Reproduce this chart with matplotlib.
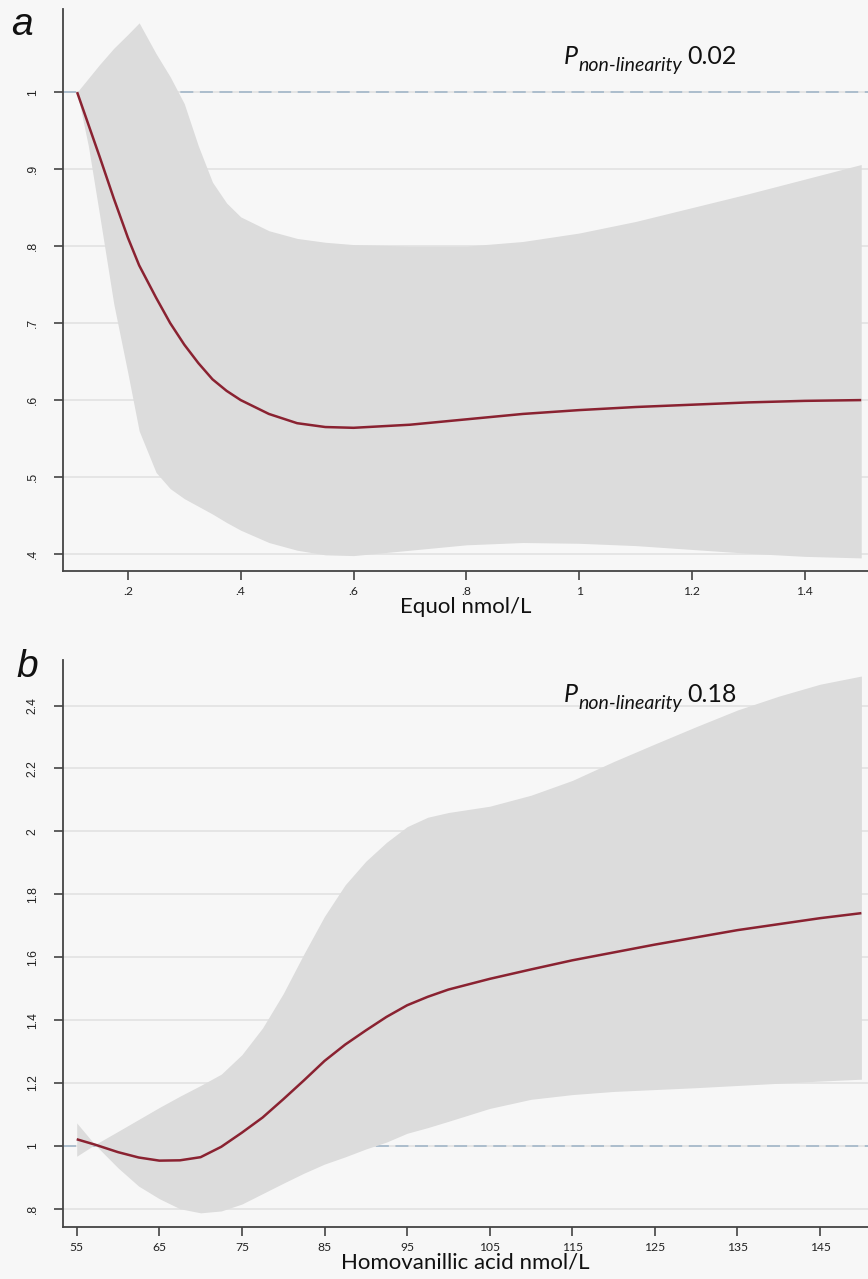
import matplotlib
matplotlib.use("Agg")
import matplotlib.pyplot as plt

# ---------------- data: panel a (Equol) ----------------
eq_x = [0.11, 0.13, 0.15, 0.175, 0.20, 0.22, 0.25, 0.275, 0.30, 0.325, 0.35, 0.375, 0.40, 0.45,
        0.50, 0.55, 0.60, 0.70, 0.80, 0.90, 1.00, 1.10, 1.20, 1.30, 1.40, 1.50]
eq_or = [1.000, 0.958, 0.916, 0.862, 0.811, 0.775, 0.733, 0.700, 0.672, 0.648, 0.627, 0.612, 0.600,
         0.582, 0.570, 0.565, 0.564, 0.568, 0.575, 0.582, 0.587, 0.591, 0.594, 0.597, 0.599, 0.600]
eq_hi = [1.000, 1.018, 1.036, 1.057, 1.075, 1.090, 1.050, 1.020, 0.985, 0.930, 0.883, 0.856, 0.838,
         0.820, 0.810, 0.805, 0.802, 0.800, 0.800, 0.806, 0.817, 0.832, 0.850, 0.868, 0.887, 0.906]
eq_lo = [1.000, 0.930, 0.840, 0.725, 0.635, 0.560, 0.506, 0.485, 0.472, 0.462, 0.452, 0.441, 0.431,
         0.415, 0.405, 0.399, 0.398, 0.405, 0.412, 0.415, 0.414, 0.411, 0.406, 0.401, 0.397, 0.395]
eq_xticks = [0.2, 0.4, 0.6, 0.8, 1.0, 1.2, 1.4]
eq_xticklabels = [".2", ".4", ".6", ".8", "1", "1.2", "1.4"]
eq_yticks = [0.4, 0.5, 0.6, 0.7, 0.8, 0.9, 1.0]
eq_yticklabels = [".4", ".5", ".6", ".7", ".8", ".9", "1"]

# ---------------- data: panel b (Homovanillic acid) ----------------
hva_x = [55, 57.2, 60, 62.5, 65, 67.5, 70, 72.5, 75, 77.5, 80, 82.5, 85, 87.5, 90, 92.5, 95,
         97.5, 100, 105, 110, 115, 120, 125, 130, 135, 140, 145, 150]
hva_or = [1.021, 1.004, 0.980, 0.963, 0.953, 0.954, 0.964, 0.997, 1.042, 1.090, 1.148, 1.208, 1.270,
          1.322, 1.367, 1.410, 1.447, 1.474, 1.497, 1.531, 1.561, 1.590, 1.615, 1.640, 1.663, 1.686,
          1.705, 1.724, 1.740]
hva_hi = [1.073, 1.004, 1.046, 1.084, 1.122, 1.158, 1.192, 1.228, 1.290, 1.375, 1.484, 1.610, 1.730,
          1.830, 1.905, 1.965, 2.015, 2.045, 2.060, 2.080, 2.115, 2.162, 2.222, 2.278, 2.333, 2.386,
          2.430, 2.468, 2.494]
hva_lo = [0.967, 1.004, 0.930, 0.872, 0.832, 0.800, 0.787, 0.793, 0.815, 0.848, 0.881, 0.913, 0.942,
          0.965, 0.990, 1.012, 1.040, 1.058, 1.078, 1.119, 1.148, 1.163, 1.173, 1.179, 1.185, 1.192,
          1.199, 1.206, 1.212]
hva_xticks = [55, 65, 75, 85, 95, 105, 115, 125, 135, 145]
hva_xticklabels = ["55", "65", "75", "85", "95", "105", "115", "125", "135", "145"]
hva_yticks = [0.8, 1.0, 1.2, 1.4, 1.6, 1.8, 2.0, 2.2, 2.4]
hva_yticklabels = [".8", "1", "1.2", "1.4", "1.6", "1.8", "2", "2.2", "2.4"]

ref_value = 1.0
labels_x = ["Equol nmol/L", "Homovanillic acid nmol/L"]
p_values = ["0.02", "0.18"]
panel_letters = ["a", "b"]

# ---------------- style ----------------
BG = "#f7f7f7"
BAND = "#dcdcdc"
LINE = "#8a2231"
GRID = "#e4e4e4"
DASH = "#9db3c6"
SPINE = "#444444"

W, H = 868, 1279
fig = plt.figure(figsize=(W / 100, H / 100), dpi=100, facecolor=BG)


def px_rect(left, top, right, bottom):
    return [left / W, 1 - bottom / H, (right - left) / W, (bottom - top) / H]


ax1 = fig.add_axes(px_rect(63, 9, 868, 571))
ax2 = fig.add_axes(px_rect(63, 660, 868, 1227.3))


def style(ax, x, orv, hi, lo, xticks, xtl, yticks, ytl, xlim, ylim, xlabel):
    ax.set_facecolor(BG)
    for yt in yticks:
        ax.axhline(yt, color=GRID, lw=1.3, zorder=0)
    ax.axhline(ref_value, color=DASH, lw=1.1, dashes=(8.5, 4.3), zorder=1)
    ax.fill_between(x, lo, hi, color=BAND, lw=0, zorder=2)
    ax.plot(x, orv, color=LINE, lw=1.8, zorder=3, solid_capstyle="butt",
            solid_joinstyle="round")
    ax.set_xlim(*xlim)
    ax.set_ylim(*ylim)
    for s in ("top", "right"):
        ax.spines[s].set_visible(False)
    for s in ("left", "bottom"):
        ax.spines[s].set_color(SPINE)
        ax.spines[s].set_linewidth(1.3)
    ax.set_xticks(xticks)
    ax.set_xticklabels(xtl, fontsize=8.7, family="Lato", color="#222222")
    ax.set_yticks(yticks)
    ax.set_yticklabels(ytl, fontsize=8.7, family="Liberation Sans", color="#222222",
                       rotation=90, va="center")
    ax.tick_params(axis="x", length=6.5, width=1.2, color=SPINE, pad=4)
    ax.tick_params(axis="y", length=6.5, width=1.2, color=SPINE, pad=11)
    ax.set_xlabel(xlabel, fontsize=16, family="Lato", color="#111111", labelpad=0)


style(ax1, eq_x, eq_or, eq_hi, eq_lo, eq_xticks, eq_xticklabels, eq_yticks, eq_yticklabels,
      (0.085, 1.512), (0.378, 1.108), labels_x[0])
style(ax2, hva_x, hva_or, hva_hi, hva_lo, hva_xticks, hva_xticklabels, hva_yticks, hva_yticklabels,
      (53.34, 150.8), (0.741, 2.545), labels_x[1])


def fx(px):
    return px / W


def fy(py):
    return 1 - py / H


# P non-linearity annotations
for (base_y, pv) in zip([64, 702], p_values):
    fig.text(fx(564), fy(base_y), "P", fontsize=18, style="italic", family="Lato",
             va="baseline", ha="left", color="#111111")
    fig.text(fx(578), fy(base_y + 7), "non-linearity", fontsize=14, style="italic",
             family="Lato", va="baseline", ha="left", color="#111111")
    fig.text(fx(687), fy(base_y), pv, fontsize=18, family="Lato",
             va="baseline", ha="left", color="#111111")

# panel letters
fig.text(fx(11), fy(35), panel_letters[0], fontsize=28, style="italic",
         family="Liberation Sans", va="baseline", ha="left", color="#111111")
fig.text(fx(16), fy(677), panel_letters[1], fontsize=28, style="italic",
         family="Liberation Sans", va="baseline", ha="left", color="#111111")

fig.savefig("out.png", dpi=100, facecolor=BG)
